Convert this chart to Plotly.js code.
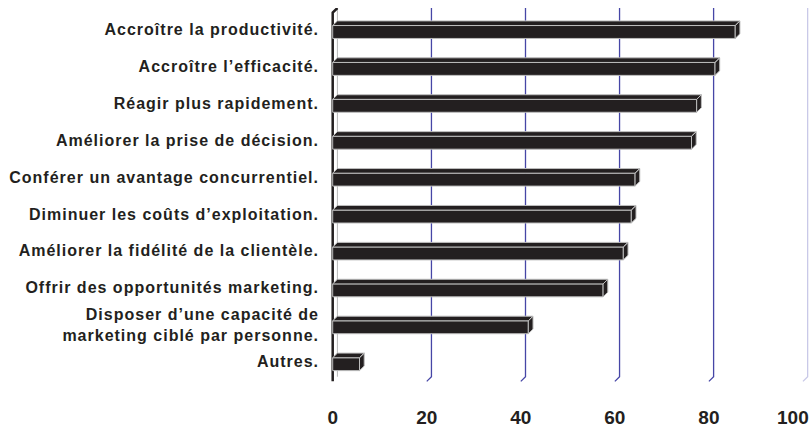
<!DOCTYPE html>
<html>
<head>
<meta charset="utf-8">
<script src="https://cdn.plot.ly/plotly-3.0.1.min.js"></script>
<style>
  html, body { margin: 0; padding: 0; background: #fff; }
  #chart { width: 812px; height: 428px; }
  .ytick text { letter-spacing: 1px; }
</style>
</head>
<body>
<div id="chart"></div>
<script>
// ---- data ----
const categories = [
  "Accroître la productivité.",
  "Accroître l’efficacité.",
  "Réagir plus rapidement.",
  "Améliorer la prise de décision.",
  "Conférer un avantage concurrentiel.",
  "Diminuer les coûts d’exploitation.",
  "Améliorer la fidélité de la clientèle.",
  "Offrir des opportunités marketing.",
  "Disposer d’une capacité de<br>marketing ciblé par personne.",
  "Autres."
];
const values = [85.6, 81.3, 77.4, 76.3, 64.3, 63.5, 61.8, 57.5, 41.6, 5.7];
const xTickValues = [0, 20, 40, 60, 80, 100];
const xTickLabels = ["0", "20", "40", "60", "80", "100"];

// ---- styling / 3D geometry (in axis units) ----
const FONT = "'Liberation Sans', Arial, sans-serif";
const INK = '#231f20';
const EDGE = '#bdbdbd';
const DX = 1.0;     // depth offset along x (axis units)
const DY = 0.125;   // depth offset along y (category units)
const BAR_W = 0.35;
const H = BAR_W / 2;
const Y_TOP = -0.65, Y_BOT = 9.34;

const idx = categories.map((c, i) => i);

// front faces
const front = {
  type: 'bar', orientation: 'h',
  x: values, y: idx, base: 0, width: BAR_W,
  marker: { color: INK, line: { color: EDGE, width: 1 } },
  hoverinfo: 'skip', showlegend: false
};

// top and side faces
const fx = [], fy = [];
values.forEach((v, i) => {
  fx.push(0, DX, v + DX, v, 0, null);
  fy.push(i - H, i - H - DY, i - H - DY, i - H, i - H, null);
  fx.push(v, v + DX, v + DX, v, v, null);
  fy.push(i - H, i - H - DY, i + H - DY, i + H, i - H, null);
});
const faces = {
  type: 'scatter', mode: 'lines', x: fx, y: fy,
  fill: 'toself', fillcolor: INK,
  line: { color: EDGE, width: 1 },
  hoverinfo: 'skip', showlegend: false
};

// back-wall gridlines with a slanted foot, and the left wall
const shapes = [];
xTickValues.filter(t => t > 0).forEach(t => {
  shapes.push({
    type: 'path', layer: 'below', xref: 'x', yref: 'y',
    path: `M ${t + DX},${Y_TOP} L ${t + DX},${Y_BOT} L ${t},${Y_BOT + DY}`,
    line: { color: t === 100 ? '#c9c9e8' : '#4646a6', width: 1.3 }
  });
});
shapes.push({
  type: 'path', layer: 'below', xref: 'x', yref: 'y',
  path: `M ${DX},${Y_TOP} L ${DX},${Y_BOT}`,
  line: { color: '#b8b8b8', width: 1 }
});
shapes.push({
  type: 'path', layer: 'below', xref: 'x', yref: 'y',
  path: `M 0,${Y_BOT + DY} L 0,${Y_TOP + DY} L ${DX},${Y_TOP}`,
  line: { color: INK, width: 2.5 }
});

// the last x tick label sits against the right edge, so it is placed as an annotation
const lastTick = xTickValues.length - 1;
const xFont = { family: FONT, size: 19, color: INK, weight: 'bold' };

const layout = {
  width: 812, height: 428,
  margin: { l: 328, r: 2, t: 8, b: 45 },
  paper_bgcolor: '#fff', plot_bgcolor: '#fff',
  showlegend: false,
  xaxis: {
    range: [-1, 101.5], showgrid: false, zeroline: false, showline: false,
    tickmode: 'array', tickvals: xTickValues.slice(0, lastTick), ticktext: xTickLabels.slice(0, lastTick),
    ticks: '', ticklabelstandoff: 21,
    tickfont: xFont,
    fixedrange: true
  },
  yaxis: {
    range: [9.51, -0.65], showgrid: false, zeroline: false, showline: false,
    tickmode: 'array', tickvals: idx.map(i => i - 0.07), ticktext: categories,
    ticks: '', ticklabelstandoff: 8,
    tickfont: { family: FONT, size: 16, color: INK, weight: 'bold' },
    fixedrange: true
  },
  annotations: [{
    xref: 'x', yref: 'paper', x: xTickValues[lastTick], y: 0,
    xanchor: 'center', yanchor: 'middle', xshift: -10, yshift: -34,
    text: '<b>' + xTickLabels[lastTick] + '</b>', showarrow: false, font: xFont
  }],
  shapes: shapes
};

Plotly.newPlot('chart', [front, faces], layout, { staticPlot: true, displayModeBar: false });
</script>
</body>
</html>
